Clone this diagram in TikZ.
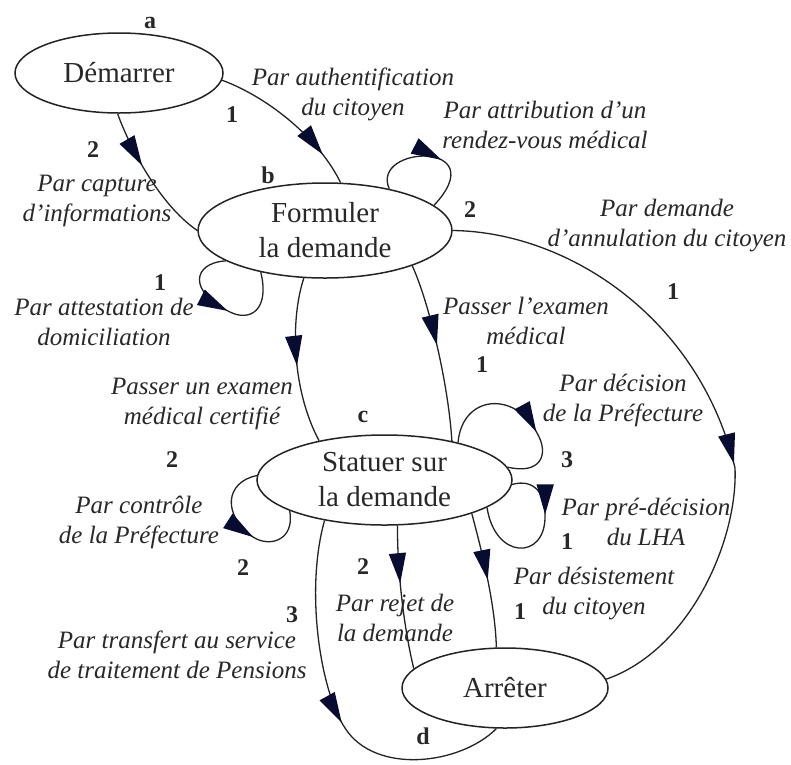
\documentclass[tikz,border=0pt]{standalone}
\usepackage{fontspec}
\setmainfont{Liberation Serif}
\usetikzlibrary{shapes.geometric,arrows.meta,decorations.markings}
\definecolor{arrowc}{RGB}{8,12,48}
\definecolor{linec}{RGB}{35,35,35}
\definecolor{textc}{RGB}{40,40,40}
\tikzset{
  state/.style={ellipse, draw=linec, line width=1.5pt, inner sep=0pt,
    font=\fontsize{29}{35}\selectfont, text=textc, align=center},
  edge/.style={draw=linec, line width=1.3pt},
  midarrow/.style={postaction={decorate,decoration={markings,
    mark=at position #1 with {\arrow{Triangle[length=30pt,width=17pt,color=arrowc]}}}}},
  lab/.style={font=\fontsize{25}{30}\selectfont\itshape, text=textc, align=center, inner sep=0pt},
  num/.style={font=\fontsize{24}{28}\selectfont\bfseries, text=textc, inner sep=0pt},
}
\begin{document}
\begin{tikzpicture}[x=1pt,y=-1pt]
\fill[white] (0,0) rectangle (791,764);
\useasboundingbox (0,0) rectangle (791,764);

% states
\node[state, minimum width=208pt, minimum height=80pt] (dem) at (119,73) {Démarrer};
\node[state, minimum width=254pt, minimum height=95pt] (for) at (325,230.5) {Formuler\\la demande};
\node[state, minimum width=255pt, minimum height=90pt] (sta) at (384.5,480) {Statuer sur\\la demande};
\node[state, minimum width=206pt, minimum height=80pt] (arr) at (505,688) {Arrêter};

% state letters
\node[num] (la) at (150,23) {a};
\node[num] (lb) at (268,175) {b};
\node[num] (lc) at (363,417) {c};
\node[num] (ld) at (423,736) {d};

% edges
\draw[edge, midarrow=0.79] (dem.-4) .. controls (270,98) and (320,140) .. (for.72);
\draw[edge, midarrow=0.4] (dem.-92) .. controls (130,148) and (160,205) .. (for.180);
\draw[edge, midarrow=0.58] (for.33) .. controls (370,145) and (495,140) .. (for.13);
\draw[edge, midarrow=0.53] (for.197) .. controls (192,263) and (188,292) .. (230,312)
   .. controls (250,322) and (270,310) .. (for.213);
\draw[edge, midarrow=0.53] (for.246) .. controls (290,320) and (292,390) .. (sta.149);
\draw[edge, midarrow=0.46] (for.-22) .. controls (428,300) and (448,380) .. (sta.30);
\draw[edge, midarrow=0.595] (for.0) .. controls (570,232) and (700,320) .. (735,468)
   .. controls (738,540) and (690,650) .. (arr.5);
\draw[edge, midarrow=0.63] (sta.27) .. controls (462,395) and (515,390) .. (537,433)
   .. controls (550,455) and (540,475) .. (sta.6);
\draw[edge, midarrow=0.34] (sta.-2) .. controls (535,478) and (546,495) .. (545,517)
   .. controls (545,560) and (495,560) .. (sta.-15);
\draw[edge, midarrow=0.58] (sta.178) .. controls (225,482) and (222,515) .. (253,537)
   .. controls (270,548) and (295,540) .. (sta.198);
\draw[edge, midarrow=0.4] (sta.-74) .. controls (397,560) and (402,620) .. (arr.168);
\draw[edge, midarrow=0.5] (sta.-21) .. controls (480,545) and (495,600) .. (arr.102);
\draw[edge, midarrow=0.54] (sta.214) .. controls (305,590) and (320,690) .. (345,728)
   .. controls (375,775) and (460,765) .. (arr.258);

% edge labels
\node[lab] (t1) at (353,94) {Par authentification\\du citoyen};
\node[num] (n1) at (232,115) {1};
\node[num] (n2) at (93,150) {2};
\node[lab] (t2) at (97,201) {Par capture\\d'informations};
\node[lab] (t3) at (545,125) {Par attribution d'un\\rendez-vous médical};
\node[num] (n3) at (470,210) {2};
\node[lab] (t4) at (667,226) {Par demande\\d'annulation du citoyen};
\node[num] (n4) at (673,292) {1};
\node[num] (n5) at (160,283) {1};
\node[lab] (t5) at (104,322) {Par attestation de\\domiciliation};
\node[lab] (t6) at (202,404) {Passer un examen\\médical certifié};
\node[num] (n6) at (172,460) {2};
\node[lab] (t7) at (526,321) {Passer l'examen\\médical};
\node[num] (n7) at (482,365) {1};
\node[lab] (t8) at (623,400) {Par décision\\de la Préfecture};
\node[num] (n8) at (567,460) {3};
\node[lab] (t9) at (646,522) {Par pré-décision\\du LHA};
\node[num] (n9) at (567,542) {1};
\node[lab] (t10) at (594,593) {Par désistement\\du citoyen};
\node[num] (n10) at (520,612) {1};
\node[num] (n11) at (363,567) {2};
\node[lab] (t11) at (395,618) {Par rejet de\\la demande};
\node[lab] (t12) at (139,522) {Par contrôle\\de la Préfecture};
\node[num] (n12) at (243,568) {2};
\node[num] (n13) at (292,615) {3};
\node[lab] (t13) at (177,655) {Par transfert au service\\de traitement de Pensions};
\end{tikzpicture}
\end{document}
